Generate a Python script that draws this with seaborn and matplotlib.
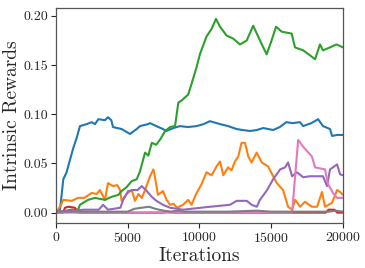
import matplotlib
matplotlib.use("Agg")
import matplotlib.pyplot as plt
import seaborn as sns
import pandas as pd

# ---- data ----
blue_x = [0, 300, 530, 760, 1000, 1230, 1460, 1690, 2160, 2500, 2740, 2970, 3430, 3640, 3870, 3990, 4590, 5170, 5640, 5870, 6430, 6570, 7000, 7470, 7700, 8200, 8650, 9200, 9810, 10300, 10740, 11440, 12000, 12600, 13000, 13530, 14000, 14450, 15140, 15600, 16060, 16500, 17000, 17230, 17800, 18270, 18610, 19100, 19240, 19600, 20000]
blue_y = [0, 0.003, 0.034, 0.041, 0.054, 0.066, 0.076, 0.088, 0.090, 0.092, 0.090, 0.095, 0.094, 0.097, 0.094, 0.087, 0.085, 0.080, 0.085, 0.088, 0.090, 0.091, 0.088, 0.085, 0.083, 0.086, 0.088, 0.087, 0.088, 0.090, 0.093, 0.090, 0.088, 0.085, 0.084, 0.083, 0.084, 0.086, 0.084, 0.087, 0.092, 0.091, 0.092, 0.088, 0.091, 0.095, 0.088, 0.085, 0.078, 0.079, 0.079]

orange_x = [0, 300, 530, 1110, 1560, 2000, 2500, 2850, 3080, 3430, 3640, 3990, 4290, 4480, 4590, 4940, 5290, 5520, 5760, 6000, 6220, 6570, 6800, 6900, 7120, 7470, 7720, 7960, 8200, 8450, 8870, 9220, 9460, 9810, 10160, 10500, 10860, 11200, 11440, 11670, 12000, 12240, 12480, 12710, 12940, 13180, 13410, 13640, 13990, 14350, 14790, 15140, 15400, 15830, 16180, 16460, 16670, 17020, 17350, 17840, 18200, 18540, 18750, 19240, 19590, 19800, 20000]
orange_y = [0, 0.006, 0.013, 0.012, 0.015, 0.015, 0.020, 0.019, 0.023, 0.013, 0.030, 0.027, 0.028, 0.023, 0.012, 0.019, 0.023, 0.012, 0.019, 0.015, 0.023, 0.037, 0.044, 0.037, 0.018, 0.022, 0.013, 0.008, 0.009, 0.005, 0.008, 0.013, 0.008, 0.020, 0.029, 0.041, 0.038, 0.047, 0.052, 0.038, 0.046, 0.043, 0.052, 0.057, 0.071, 0.071, 0.057, 0.051, 0.061, 0.051, 0.047, 0.037, 0.030, 0.023, 0.006, 0.003, 0.013, 0.006, 0.011, 0.006, 0.006, 0.021, 0.006, 0.010, 0.023, 0.021, 0.018]

green_x = [0, 1110, 1560, 1690, 2250, 2740, 3430, 3870, 4360, 4590, 4940, 5290, 5640, 5870, 6220, 6450, 6690, 7000, 7300, 7620, 7960, 8310, 8540, 8770, 9220, 9460, 9810, 10040, 10500, 10860, 11160, 11440, 11900, 12350, 12830, 13300, 13750, 14100, 14450, 14690, 15030, 15340, 15730, 16430, 16660, 17230, 17700, 18060, 18400, 18610, 19100, 19540, 20000]
green_y = [0, 0.003, 0.003, 0.008, 0.013, 0.015, 0.013, 0.016, 0.018, 0.022, 0.026, 0.032, 0.034, 0.042, 0.061, 0.058, 0.071, 0.069, 0.075, 0.083, 0.087, 0.088, 0.112, 0.114, 0.120, 0.131, 0.148, 0.161, 0.179, 0.187, 0.197, 0.189, 0.180, 0.177, 0.171, 0.175, 0.190, 0.179, 0.168, 0.161, 0.175, 0.189, 0.184, 0.182, 0.168, 0.165, 0.160, 0.156, 0.171, 0.165, 0.168, 0.171, 0.168]

red_x = [0, 500, 650, 880, 1340, 1560, 7500, 7800, 8200, 18800, 19000, 19400, 19600, 20000]
red_y = [0, 0, 0.005, 0.006, 0.005, 0, 0, 0.001, 0, 0, 0.003, 0.003, 0, 0]

purple_x = [0, 2000, 3000, 3300, 3640, 4500, 4700, 5050, 5400, 5700, 5990, 6340, 6690, 7010, 7470, 7960, 8870, 10750, 12140, 12600, 13300, 13640, 14000, 14220, 14720, 15140, 15630, 15970, 16180, 16460, 16800, 17230, 17700, 18200, 18610, 18890, 19100, 19590, 19800, 20000]
purple_y = [0.001, 0.003, 0.003, 0.008, 0.003, 0.005, 0.013, 0.022, 0.023, 0.023, 0.027, 0.022, 0.016, 0.012, 0.008, 0.005, 0.003, 0.006, 0.008, 0.012, 0.012, 0.008, 0.006, 0.013, 0.023, 0.034, 0.044, 0.046, 0.051, 0.037, 0.041, 0.036, 0.037, 0.037, 0.037, 0.027, 0.044, 0.049, 0.039, 0.038]

pink_x = [0, 16460, 16880, 17230, 17840, 18060, 18750, 18960, 19310, 19590, 20000]
pink_y = [0, 0, 0.074, 0.067, 0.057, 0.046, 0.044, 0.029, 0.020, 0.015, 0.015]

gray_x = [0, 5000, 5500, 6000, 6500, 6900, 7500, 8000, 8500, 9000, 9500, 12000, 14000, 15000, 19000, 19500, 20000]
gray_y = [0.001, 0.001, 0.004, 0.005, 0.006, 0.004, 0.002, 0.001, 0.002, 0.001, 0.001, 0.001, 0.002, 0.001, 0.001, 0.002, 0.001]

series = [("blue", blue_x, blue_y, "#1f77b4"),
          ("orange", orange_x, orange_y, "#ff7f0e"),
          ("green", green_x, green_y, "#2ca02c"),
          ("red", red_x, red_y, "#d62728"),
          ("purple", purple_x, purple_y, "#9467bd"),
          ("pink", pink_x, pink_y, "#e377c2"),
          ("gray", gray_x, gray_y, "#7f7f7f")]

frames = [pd.DataFrame({"Iterations": xs, "value": ys, "series": name}) for name, xs, ys, _ in series]
df = pd.concat(frames, ignore_index=True)
palette = {name: c for name, _, _, c in series}

sns.set_style("ticks")
plt.rcParams["font.family"] = ["cmr10", "DejaVu Serif"]
plt.rcParams["axes.formatter.use_mathtext"] = True
plt.rcParams["mathtext.fontset"] = "cm"

fig = plt.figure(figsize=(3.65, 2.68), dpi=100)
ax = fig.add_axes([0.1526, 0.168, 0.787, 0.802])
sns.lineplot(data=df, x="Iterations", y="value", hue="series", palette=palette,
             estimator=None, sort=True, legend=False, linewidth=1.5, ax=ax)

ax.set_xlim(0, 20000)
ax.set_ylim(-0.0105, 0.208)
ax.set_xticks([0, 5000, 10000, 15000, 20000])
ax.set_yticks([0.0, 0.05, 0.10, 0.15, 0.20])
ax.set_yticklabels(["0.00", "0.05", "0.10", "0.15", "0.20"])
ax.set_xlabel("Iterations", fontsize=14, labelpad=2)
ax.set_ylabel("Intrinsic Rewards", fontsize=14, labelpad=2)
ax.tick_params(labelsize=10, length=3.5, width=0.8, direction="out", pad=2)
for s in ax.spines.values():
    s.set_color("#555555")
    s.set_linewidth(0.9)

fig.savefig("out.png", dpi=100)
